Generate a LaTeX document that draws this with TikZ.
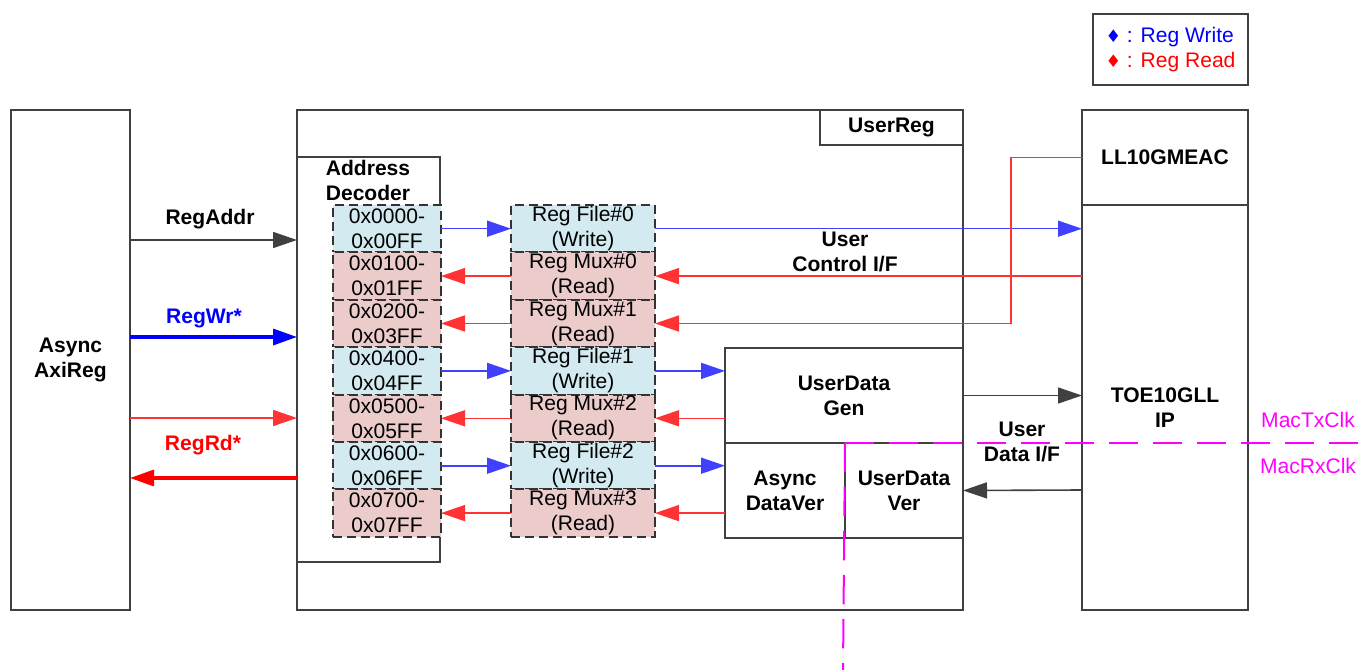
\documentclass[tikz,border=0pt]{standalone}
\usepackage{fontspec}
\setmainfont{Liberation Sans}
\newfontfamily\symfont{DejaVu Sans}
\usetikzlibrary{positioning, arrows.meta}
\definecolor{WrBlue}{RGB}{0,0,255}
\definecolor{RdRed}{RGB}{255,0,0}
\definecolor{CellBlue}{RGB}{210,234,240}
\definecolor{CellPink}{RGB}{236,203,203}
\definecolor{ClkPink}{RGB}{255,0,255}
\definecolor{LineGray}{RGB}{64,64,64}
\newcommand{\diagfont}{\fontsize{15.8pt}{18.75pt}\selectfont}
\tikzset{
    blockbox/.style={
        draw=LineGray, line width=1pt, fill=white, inner sep=0pt, outer sep=0pt,
        align=center, font=\diagfont\bfseries
    },
    cellbox/.style={
        draw=black!80, line width=1.6pt, dash pattern=on 7pt off 3.5pt,
        inner sep=0pt, outer sep=0pt, minimum height=35.55pt,
        align=center, font=\diagfont
    },
    wrcell/.style={cellbox, fill=CellBlue},
    rdcell/.style={cellbox, fill=CellPink},
    lbl/.style={align=center, font=\diagfont\bfseries, inner sep=0pt},
    wrptr/.style={-{Triangle[length=18pt, width=12pt]}, WrBlue!75, line width=1.2pt},
    rdptr/.style={-{Triangle[length=18pt, width=12pt]}, RdRed!80, line width=1.2pt},
    dataptr/.style={-{Triangle[length=18pt, width=12pt]}, LineGray, line width=1.2pt},
    clkline/.style={ClkPink, line width=1.5pt, dash pattern=on 22pt off 11pt}
}

\begin{document}
\begin{tikzpicture}[x=0.75pt, y=-0.75pt]
    \useasboundingbox (0,0) rectangle (1359,670);

    % --- 1. KHOI CHINH ---
    \node[blockbox, minimum width=89.25pt, minimum height=375pt] (axi) at (70.5,360) {Async\\AxiReg};
    \node[blockbox, minimum width=499.5pt, minimum height=375pt] (userreg) at (630,360) {};
    \node[blockbox, minimum width=107.25pt, minimum height=26.25pt, anchor=north east] (regtab) at (userreg.north east) {UserReg};
    \node[blockbox, minimum width=107.25pt, minimum height=303.75pt, anchor=north west] (decoder) at (297,157) {};
    \node[lbl] (declabel) at (368,180) {Address\\Decoder};

    % --- 2. O DIA CHI VA THANH GHI ---
    \node[wrcell, minimum width=81pt] (a0) at (387,228.7) {0x0000-\\0x00FF};
    \node[rdcell, minimum width=81pt, below=0pt of a0] (a1) {0x0100-\\0x01FF};
    \node[rdcell, minimum width=81pt, below=0pt of a1] (a2) {0x0200-\\0x03FF};
    \node[wrcell, minimum width=81pt, below=0pt of a2] (a3) {0x0400-\\0x04FF};
    \node[rdcell, minimum width=81pt, below=0pt of a3] (a4) {0x0500-\\0x05FF};
    \node[wrcell, minimum width=81pt, below=0pt of a4] (a5) {0x0600-\\0x06FF};
    \node[rdcell, minimum width=81pt, below=0pt of a5] (a6) {0x0700-\\0x07FF};

    \node[wrcell, minimum width=108pt, right=52.5pt of a0] (r0) {Reg File\#0\\(Write)};
    \node[rdcell, minimum width=108pt, right=52.5pt of a1] (r1) {Reg Mux\#0\\(Read)};
    \node[rdcell, minimum width=108pt, right=52.5pt of a2] (r2) {Reg Mux\#1\\(Read)};
    \node[wrcell, minimum width=108pt, right=52.5pt of a3] (r3) {Reg File\#1\\(Write)};
    \node[rdcell, minimum width=108pt, right=52.5pt of a4] (r4) {Reg Mux\#2\\(Read)};
    \node[wrcell, minimum width=108pt, right=52.5pt of a5] (r5) {Reg File\#2\\(Write)};
    \node[rdcell, minimum width=108pt, right=52.5pt of a6] (r6) {Reg Mux\#3\\(Read)};

    % --- 3. KHOI DU LIEU VA IP ---
    \node[blockbox, minimum width=178.5pt, minimum height=71.25pt] (gen) at (844,395.5) {UserData\\Gen};
    \node[blockbox, minimum width=90pt, minimum height=71.25pt] (asyncver) at (785,490.5) {Async\\DataVer};
    \node[blockbox, minimum width=88.5pt, minimum height=71.25pt] (udver) at (904,490.5) {UserData\\Ver};
    \node[blockbox, minimum width=124.5pt, minimum height=71.25pt] (mac) at (1165,157.5) {LL10GMEAC};
    \node[blockbox, minimum width=124.5pt, minimum height=303.75pt] (toe) at (1165,407.5) {TOE10GLL\\IP};

    % --- 4. MUI TEN BEN TRAI ---
    \draw[dataptr] (axi.east |- 0,240) -- (decoder.west |- 0,240);
    \draw[wrptr, WrBlue, line width=2.5pt] (axi.east |- 0,337) -- (decoder.west |- 0,337);
    \draw[rdptr] (axi.east |- 0,418) -- (decoder.west |- 0,418);
    \draw[rdptr, RdRed, line width=2.5pt] (decoder.west |- 0,478) -- (axi.east |- 0,478);
    \node[lbl] (addrlbl) at (210,219) {RegAddr};
    \node[lbl, text=WrBlue] (wrlbl) at (204,318) {RegWr*};
    \node[lbl, text=RdRed] (rdlbl) at (203,445) {RegRd*};

    % --- 5. MUI TEN GIUA ---
    \draw[wrptr] (a0) -- (r0);
    \draw[rdptr] (r1) -- (a1);
    \draw[rdptr] (r2) -- (a2);
    \draw[wrptr] (a3) -- (r3);
    \draw[rdptr] (r4) -- (a4);
    \draw[wrptr] (a5) -- (r5);
    \draw[rdptr] (r6) -- (a6);

    \draw[wrptr] (r0.east) -- (r0.east -| toe.west);
    \draw[rdptr] (r1.east -| toe.west) -- (r1.east);
    \draw[rdptr] (mac.west) -- ++(-71,0) |- (r2.east);
    \draw[wrptr] (r3.east) -- (r3.east -| gen.west);
    \draw[rdptr] (r4.east -| gen.west) -- (r4.east);
    \draw[wrptr] (r5.east) -- (r5.east -| asyncver.west);
    \draw[rdptr] (r6.east -| asyncver.west) -- (r6.east);

    \draw[dataptr] (gen.east) -- (gen.east -| toe.west);
    \draw[dataptr] (toe.west |- 0,490) -- (udver.east);

    \node[lbl] (ctrlif) at (845,252) {User\\Control I/F};
    \node[lbl] (dataif) at (1022,442) {User\\Data I/F};

    % --- 6. MIEN XUNG NHIP ---
    \coordinate (clkE) at (1359,443);
    \coordinate (clkS) at (843,670);
    \draw[clkline] (udver.north west) -- (clkE);
    \draw[clkline] (udver.north west) -- (clkS);
    \node[font=\diagfont, text=ClkPink] (txclk) at (1308,420) {MacTxClk};
    \node[font=\diagfont, text=ClkPink] (rxclk) at (1308,466) {MacRxClk};

    % --- 7. CHU THICH ---
    \node[draw=LineGray, line width=1pt, minimum width=116.25pt, minimum height=53.25pt,
          align=left, font=\diagfont, inner sep=0pt] (legend) at (1170.5,49.5)
        {\textcolor{WrBlue}{{\symfont\fontsize{13pt}{13pt}\selectfont ♦} : Reg Write}\\[0pt]
         \textcolor{RdRed}{{\symfont\fontsize{13pt}{13pt}\selectfont ♦} : Reg Read}};
\end{tikzpicture}
\end{document}
